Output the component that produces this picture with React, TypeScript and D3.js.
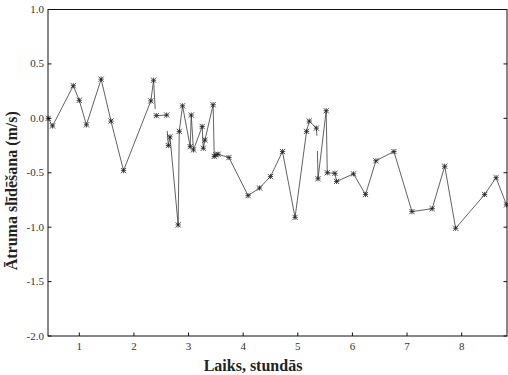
import React from 'react';
import * as d3 from 'd3';

// time in hours, velocity drift in m/s (null = gap in the record)
const times = [
  0.43, 0.51, 0.89, 1.0, 1.13, 1.4, 1.58, 1.81, 2.31, 2.36, 2.39, 2.4,
  2.41, 2.6, 2.605,
  2.61, 2.63, 2.66, 2.81, 2.83, 2.89, 3.03, 3.05, 3.09, 3.25, 3.27, 3.3,
  3.45, 3.47, 3.5, 3.54, 3.74, 4.09, 4.3, 4.5, 4.72, 4.95, 5.16, 5.21,
  5.34, 5.35, 5.355, 5.36, 5.37, 5.52, 5.54, 5.68, 5.71, 6.02, 6.24, 6.43,
  6.76, 7.09, 7.46, 7.69, 7.89, 8.42, 8.63, 8.82,
];
const values: (number | null)[] = [
  0.0, -0.07, 0.3, 0.165, -0.06, 0.36, -0.025, -0.48, 0.16, 0.35, 0.085, null,
  0.025, 0.03, null,
  -0.115, -0.25, -0.17, -0.98, -0.12, 0.115, -0.26, 0.03, -0.29, -0.075, -0.275, -0.2,
  0.125, -0.35, -0.335, -0.33, -0.36, -0.71, -0.64, -0.535, -0.305, -0.91, -0.12, -0.025,
  -0.09, -0.16, null, -0.3, -0.555, 0.07, -0.5, -0.505, -0.58, -0.51, -0.7, -0.39,
  -0.305, -0.857, -0.83, -0.44, -1.01, -0.7, -0.545, -0.795,
];
// line ends with no marker drawn
const unmarked = [2.39, 2.61, 5.35, 5.36];

const xTicks = [1, 2, 3, 4, 5, 6, 7, 8];
const yTicks = [1.0, 0.5, 0.0, -0.5, -1.0, -1.5, -2.0];

const W = 508;
const H = 375;
const m = { left: 48, right: 1, top: 9.5, bottom: 39 };
const font = '"Liberation Serif"';

export default function App() {
  const x = d3.scaleLinear().domain([0.427, 8.83]).range([m.left, W - m.right]);
  const y = d3.scaleLinear().domain([-2, 1]).range([H - m.bottom, m.top]);

  const pts = times.map((t, i) => ({ t, v: values[i] }));
  const line = d3
    .line<{ t: number; v: number | null }>()
    .defined(d => d.v !== null)
    .x(d => x(d.t))
    .y(d => y(d.v as number));

  const marks = pts.filter(d => d.v !== null && !unmarked.includes(d.t));
  const fmt = (t: number) => d3.format('.1f')(t).replace('\u2212', '-');

  return (
    <svg
      width={W}
      height={H}
      style={{ position: 'absolute', left: 0, top: 0, background: '#fff' }}
    >
      <path d={line(pts) || ''} fill="none" stroke="#3a3a3a" strokeWidth={0.8} />
      {marks.map((d, i) => {
        const cx = x(d.t);
        const cy = y(d.v as number);
        const r = 2.6;
        return (
          <g key={i} stroke="#222" strokeWidth={0.8}>
            <line x1={cx - r} y1={cy - r} x2={cx + r} y2={cy + r} />
            <line x1={cx - r} y1={cy + r} x2={cx + r} y2={cy - r} />
            <line x1={cx} y1={cy - r} x2={cx} y2={cy + r} />
            <line x1={cx - r} y1={cy} x2={cx + r} y2={cy} />
          </g>
        );
      })}
      <rect
        x={m.left}
        y={m.top}
        width={W - m.right - m.left}
        height={H - m.bottom - m.top}
        fill="none"
        stroke="#111"
        strokeWidth={1}
      />
      {xTicks.map(t => (
        <g key={t}>
          <line x1={x(t)} x2={x(t)} y1={y(-2)} y2={y(-2) - 3.5} stroke="#111" />
          <text
            x={x(t)}
            y={H - m.bottom + 14}
            textAnchor="middle"
            fontSize={11}
            fill="#333"
            style={{ fontFamily: font }}
          >
            {t}
          </text>
        </g>
      ))}
      {yTicks.map(t => (
        <g key={t}>
          <line x1={m.left} x2={m.left + 3.5} y1={y(t)} y2={y(t)} stroke="#111" />
          <line x1={W - m.right} x2={W - m.right - 3.5} y1={y(t)} y2={y(t)} stroke="#111" />
          <text
            x={m.left - 4}
            y={y(t) + 3.5}
            textAnchor="end"
            fontSize={11}
            fill="#333"
            style={{ fontFamily: font }}
          >
            {fmt(t)}
          </text>
        </g>
      ))}
      <text
        x={253}
        y={371}
        textAnchor="middle"
        fontSize={16}
        fontWeight="bold"
        fill="#222"
        style={{ fontFamily: font }}
      >
        Laiks, stundās
      </text>
      <text
        transform={`translate(17,${(m.top + H - m.bottom) / 2 + 18}) rotate(-90)`}
        textAnchor="middle"
        fontSize={16}
        fontWeight="bold"
        fill="#222"
        style={{ fontFamily: font }}
      >
        Ātruma slīdēšana (m/s)
      </text>
    </svg>
  );
}
